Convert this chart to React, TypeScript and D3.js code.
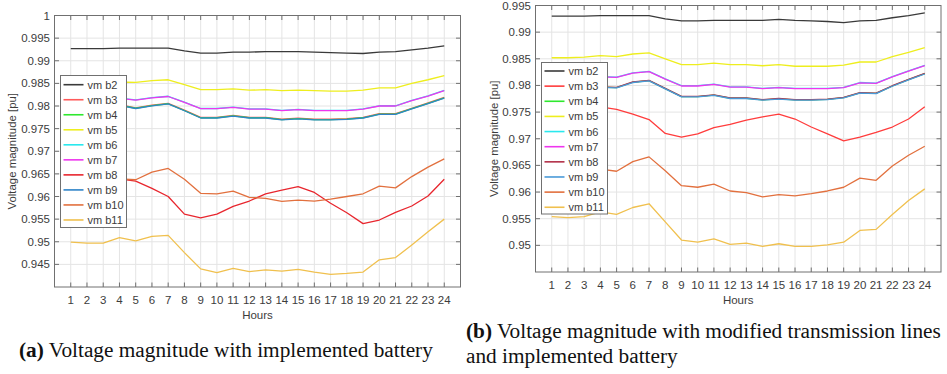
import React from "react";
import * as d3 from "d3";

const HOURS = [1, 2, 3, 4, 5, 6, 7, 8, 9, 10, 11, 12, 13, 14, 15, 16, 17, 18, 19, 20, 21, 22, 23, 24];
const SERIES_NAMES = ["vm b2", "vm b3", "vm b4", "vm b5", "vm b6", "vm b7", "vm b8", "vm b9", "vm b10", "vm b11"];

// ---- Chart (a): implemented battery ----
const A_B2 = [0.9927, 0.9927, 0.9927, 0.9928, 0.9928, 0.9928, 0.9928, 0.9922, 0.9917, 0.9917, 0.9919, 0.9919, 0.992, 0.992, 0.992, 0.9919, 0.9918, 0.9917, 0.9916, 0.9919, 0.992, 0.9924, 0.9928, 0.9933];
const A_B3 = [0.9802, 0.9802, 0.9802, 0.9803, 0.9796, 0.9802, 0.9806, 0.9791, 0.9775, 0.9775, 0.9779, 0.9775, 0.9775, 0.9771, 0.9773, 0.9771, 0.9771, 0.9772, 0.9775, 0.9783, 0.9783, 0.9795, 0.9807, 0.9819];
const A_B4 = [0.9801, 0.9801, 0.9801, 0.9802, 0.9795, 0.9801, 0.9805, 0.979, 0.9774, 0.9774, 0.9778, 0.9774, 0.9774, 0.977, 0.9772, 0.977, 0.977, 0.9771, 0.9774, 0.9782, 0.9782, 0.9794, 0.9806, 0.9818];
const A_B5 = [0.985, 0.985, 0.9851, 0.9853, 0.9852, 0.9856, 0.9858, 0.9847, 0.9836, 0.9836, 0.9838, 0.9835, 0.9836, 0.9834, 0.9835, 0.9834, 0.9833, 0.9833, 0.9835, 0.984, 0.984, 0.985, 0.9858, 0.9867];
const A_B6 = [0.98165, 0.98165, 0.98165, 0.98175, 0.98135, 0.98185, 0.98215, 0.98085, 0.97945, 0.97945, 0.97975, 0.97935, 0.97935, 0.97905, 0.97925, 0.97905, 0.97905, 0.97905, 0.97935, 0.98005, 0.98005, 0.98125, 0.98225, 0.98345];
const A_B7 = [0.9816, 0.9816, 0.9816, 0.9817, 0.9813, 0.9818, 0.9821, 0.9808, 0.9794, 0.9794, 0.9797, 0.9793, 0.9793, 0.979, 0.9792, 0.979, 0.979, 0.979, 0.9793, 0.98, 0.98, 0.9812, 0.9822, 0.9834];
const A_B8 = [0.964, 0.964, 0.964, 0.9639, 0.9634, 0.9618, 0.96, 0.9561, 0.9553, 0.9561, 0.9578, 0.959, 0.9606, 0.9614, 0.9622, 0.9609, 0.9585, 0.9564, 0.954, 0.9548, 0.9565, 0.9579, 0.9601, 0.9638];
const A_B9 = [0.98005, 0.98005, 0.98005, 0.98015, 0.97945, 0.98005, 0.98045, 0.97895, 0.97735, 0.97735, 0.97775, 0.97735, 0.97735, 0.97695, 0.97715, 0.97695, 0.97695, 0.97705, 0.97735, 0.97815, 0.97815, 0.97935, 0.98055, 0.98175];
const A_B10 = [0.964, 0.964, 0.964, 0.9639, 0.9637, 0.9654, 0.9662, 0.9638, 0.9607, 0.9606, 0.9612, 0.9598, 0.9596, 0.9589, 0.9592, 0.959, 0.9594, 0.96, 0.9606, 0.9623, 0.9619, 0.9644, 0.9665, 0.9683];
const A_B11 = [0.9499, 0.9497, 0.9497, 0.9509, 0.9502, 0.9512, 0.9514, 0.9476, 0.944, 0.9432, 0.9441, 0.9434, 0.9438, 0.9435, 0.9439, 0.9433, 0.9428, 0.943, 0.9433, 0.946, 0.9465, 0.9493, 0.9522, 0.955];
const A_Y_TICKS = [0.945, 0.95, 0.955, 0.96, 0.965, 0.97, 0.975, 0.98, 0.985, 0.99, 0.995, 1];
const A_Y_LABELS = ["0.945", "0.95", "0.955", "0.96", "0.965", "0.97", "0.975", "0.98", "0.985", "0.99", "0.995", "1"];
const A_Y_DOMAIN = [0.94, 1];
const A_COLORS = ["#3a3a3a", "#ff5a5a", "#2ee82e", "#eeee1e", "#2ae8ee", "#ee36ee", "#e8262e", "#2f84c8", "#e2703e", "#f0c04e"];

// ---- Chart (b): modified transmission lines and implemented battery ----
const B_B2 = [0.993, 0.993, 0.993, 0.9931, 0.9931, 0.9931, 0.9931, 0.9925, 0.9921, 0.9921, 0.9922, 0.9922, 0.9922, 0.9922, 0.9924, 0.9922, 0.9921, 0.992, 0.9918, 0.9921, 0.9922, 0.9927, 0.9931, 0.9936];
const B_B3 = [0.9766, 0.9765, 0.9763, 0.976, 0.9755, 0.9746, 0.9736, 0.971, 0.9703, 0.9709, 0.9721, 0.9727, 0.9735, 0.9741, 0.9746, 0.9737, 0.9722, 0.9709, 0.9696, 0.9703, 0.9712, 0.9722, 0.9737, 0.976];
const B_B4 = [0.98, 0.98, 0.9799, 0.9797, 0.9796, 0.9806, 0.9809, 0.9794, 0.9779, 0.9779, 0.9782, 0.9776, 0.9776, 0.9773, 0.9775, 0.9773, 0.9773, 0.9774, 0.9777, 0.9786, 0.9785, 0.9799, 0.9811, 0.9822];
const B_B5 = [0.9852, 0.9852, 0.9853, 0.9856, 0.9854, 0.9859, 0.9861, 0.985, 0.9839, 0.9839, 0.9842, 0.9839, 0.9839, 0.9837, 0.9839, 0.9836, 0.9836, 0.9836, 0.9838, 0.9844, 0.9844, 0.9854, 0.9862, 0.9871];
const B_B6 = [0.98165, 0.98165, 0.98155, 0.98165, 0.98155, 0.98235, 0.98265, 0.98125, 0.97995, 0.97995, 0.98025, 0.97975, 0.97975, 0.97945, 0.97965, 0.97945, 0.97945, 0.97945, 0.97965, 0.98055, 0.98045, 0.98165, 0.98275, 0.98375];
const B_B7 = [0.9816, 0.9816, 0.9815, 0.9816, 0.9815, 0.9823, 0.9826, 0.9812, 0.9799, 0.9799, 0.9802, 0.9797, 0.9797, 0.9794, 0.9796, 0.9794, 0.9794, 0.9794, 0.9796, 0.9805, 0.9804, 0.9816, 0.9827, 0.9837];
const B_B8 = [0.98005, 0.98005, 0.97995, 0.97975, 0.97965, 0.98065, 0.98095, 0.97945, 0.97795, 0.97795, 0.97825, 0.97765, 0.97765, 0.97735, 0.97755, 0.97735, 0.97735, 0.97745, 0.97775, 0.97865, 0.97855, 0.97995, 0.98115, 0.98225];
const B_B9 = [0.97995, 0.97995, 0.97985, 0.97965, 0.97955, 0.98055, 0.98085, 0.97935, 0.97785, 0.97785, 0.97815, 0.97755, 0.97755, 0.97725, 0.97745, 0.97725, 0.97725, 0.97735, 0.97765, 0.97855, 0.97845, 0.97985, 0.98105, 0.98215];
const B_B10 = [0.9644, 0.9643, 0.9643, 0.9643, 0.9639, 0.9657, 0.9666, 0.964, 0.9612, 0.9609, 0.9615, 0.9602, 0.9599, 0.9591, 0.9595, 0.9593, 0.9597, 0.9602, 0.9609, 0.9626, 0.9622, 0.9649, 0.9669, 0.9686];
const B_B11 = [0.9554, 0.9552, 0.9554, 0.9563, 0.9558, 0.9571, 0.9578, 0.9544, 0.951, 0.9506, 0.9512, 0.9502, 0.9504, 0.9498, 0.9503, 0.9498, 0.9498, 0.9501, 0.9506, 0.9528, 0.953, 0.9558, 0.9584, 0.9606];
const B_Y_TICKS = [0.95, 0.955, 0.96, 0.965, 0.97, 0.975, 0.98, 0.985, 0.99, 0.995];
const B_Y_LABELS = ["0.95", "0.955", "0.96", "0.965", "0.97", "0.975", "0.98", "0.985", "0.99", "0.995"];
const B_Y_DOMAIN = [0.945, 0.995];
const B_COLORS = ["#3a3a3a", "#ff3c3c", "#2ee82e", "#eeee1e", "#2ae8ee", "#ee36ee", "#b23048", "#4a9ad8", "#e2703e", "#f0c04e"];

const A_SERIES = [A_B2, A_B3, A_B4, A_B5, A_B6, A_B7, A_B8, A_B9, A_B10, A_B11];
const B_SERIES = [B_B2, B_B3, B_B4, B_B5, B_B6, B_B7, B_B8, B_B9, B_B10, B_B11];

const X_DOMAIN = [0, 25];
const SANS = "'Liberation Sans', Arial, Helvetica, sans-serif";
const SERIF = "'Liberation Serif', 'Times New Roman', serif";

type ChartProps = {
  left: number; top: number; right: number; bottom: number;
  yDomain: number[]; yTicks: number[]; yLabels: string[];
  series: number[][]; colors: string[];
  legend: { x: number; y: number; w: number; h: number; firstY: number; step: number };
  yLabelX: number;
};

function Chart(p: ChartProps) {
  const x = d3.scaleLinear().domain(X_DOMAIN).range([p.left, p.right]);
  const y = d3.scaleLinear().domain(p.yDomain).range([p.bottom, p.top]);
  const line = d3.line<number>().x((_, i) => x(HOURS[i])).y((v) => y(v));
  const axisColor = "#707070";
  const textColor = "#3c3c3c";
  const tick = 4.5;
  return (
    <g>
      {HOURS.map((h) => (
        <line key={"gx" + h} x1={x(h)} x2={x(h)} y1={p.top} y2={p.bottom} stroke="#e4e4e4" strokeWidth={1} />
      ))}
      {p.yTicks.map((t) => (
        <line key={"gy" + t} x1={p.left} x2={p.right} y1={y(t)} y2={y(t)} stroke="#e4e4e4" strokeWidth={1} />
      ))}
      {p.series.map((s, i) => (
        <path key={"s" + i} d={line(s) || ""} fill="none" stroke={p.colors[i]} strokeWidth={1.3} strokeLinejoin="round" />
      ))}
      <rect x={p.left} y={p.top} width={p.right - p.left} height={p.bottom - p.top} fill="none" stroke={axisColor} strokeWidth={1} />
      {HOURS.map((h) => (
        <g key={"tx" + h}>
          <line x1={x(h)} x2={x(h)} y1={p.bottom} y2={p.bottom - tick} stroke={axisColor} />
          <line x1={x(h)} x2={x(h)} y1={p.top} y2={p.top + tick} stroke={axisColor} />
          <text x={x(h)} y={p.bottom + 13} textAnchor="middle" dominantBaseline="central" fontFamily={SANS} fontSize={11.5} fill={textColor}>{h}</text>
        </g>
      ))}
      {p.yTicks.map((t, i) => (
        <g key={"ty" + t}>
          <line x1={p.left} x2={p.left + tick} y1={y(t)} y2={y(t)} stroke={axisColor} />
          <line x1={p.right} x2={p.right - tick} y1={y(t)} y2={y(t)} stroke={axisColor} />
          <text x={p.left - 4.5} y={y(t)} textAnchor="end" dominantBaseline="central" fontFamily={SANS} fontSize={11.5} fill={textColor}>{p.yLabels[i]}</text>
        </g>
      ))}
      <text x={(p.left + p.right) / 2} y={p.bottom + 28} textAnchor="middle" dominantBaseline="central" fontFamily={SANS} fontSize={11.5} fill={textColor}>Hours</text>
      <text transform={`translate(${p.yLabelX},${(p.top + p.bottom) / 2}) rotate(-90)`} textAnchor="middle" dominantBaseline="central" fontFamily={SANS} fontSize={11.4} fill={textColor}>Voltage magnitude [pu]</text>
      <rect x={p.legend.x} y={p.legend.y} width={p.legend.w} height={p.legend.h} fill="#ffffff" stroke={axisColor} strokeWidth={1} />
      {SERIES_NAMES.map((n, i) => {
        const ly = p.legend.firstY + i * p.legend.step;
        return (
          <g key={"lg" + i}>
            <line x1={p.legend.x + 3} x2={p.legend.x + 23} y1={ly} y2={ly} stroke={p.colors[i]} strokeWidth={1.6} />
            <text x={p.legend.x + 27} y={ly} dominantBaseline="central" fontFamily={SANS} fontSize={11} fill={textColor}>{n}</text>
          </g>
        );
      })}
    </g>
  );
}

export default function App() {
  return (
    <svg width={947} height={374} style={{ position: "absolute", left: 0, top: 0, background: "#fff" }}>
      <rect x={0} y={0} width={947} height={374} fill="#fff" />
      <Chart
        left={54.5} top={15.5} right={460.5} bottom={287}
        yDomain={A_Y_DOMAIN} yTicks={A_Y_TICKS} yLabels={A_Y_LABELS}
        series={A_SERIES} colors={A_COLORS}
        legend={{ x: 60.5, y: 75.5, w: 66, h: 152, firstY: 84.7, step: 15.03 }}
        yLabelX={12}
      />
      <Chart
        left={535.5} top={5.5} right={941} bottom={272}
        yDomain={B_Y_DOMAIN} yTicks={B_Y_TICKS} yLabels={B_Y_LABELS}
        series={B_SERIES} colors={B_COLORS}
        legend={{ x: 541.5, y: 62.5, w: 66, h: 151.5, firstY: 71, step: 15.14 }}
        yLabelX={494}
      />
      <text x={19} y={357} fontFamily={SERIF} fontSize={21.3} fill="#111">
        <tspan fontWeight="bold">(a)</tspan> Voltage magnitude with implemented battery
      </text>
      <text x={466} y={338} fontFamily={SERIF} fontSize={21.3} fill="#111">
        <tspan fontWeight="bold">(b)</tspan> Voltage magnitude with modified transmission lines
      </text>
      <text x={466} y={363} fontFamily={SERIF} fontSize={21.3} fill="#111">and implemented battery</text>
    </svg>
  );
}
